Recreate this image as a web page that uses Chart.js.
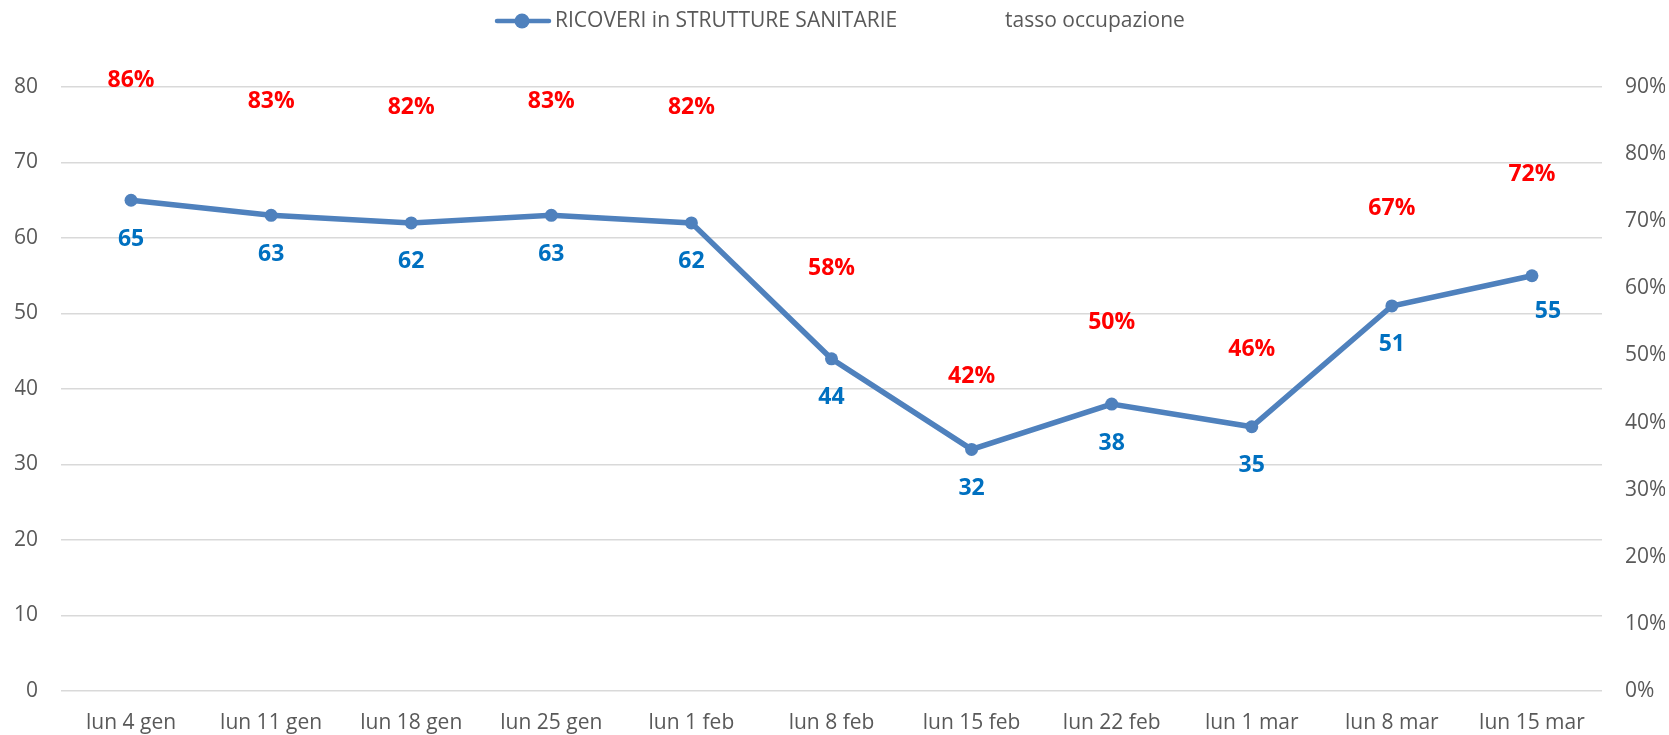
<!DOCTYPE html>
<html>
<head>
<meta charset="utf-8">
<script src="https://cdn.jsdelivr.net/npm/chart.js@4/dist/chart.umd.min.js"></script>
<style>
html,body{margin:0;padding:0;background:#fff;}
#wrap{width:1669px;height:735px;position:relative;}
</style>
</head>
<body>
<div id="wrap"><canvas id="c" width="1669" height="735"></canvas></div>
<script>
const categories = ['lun 4 gen','lun 11 gen','lun 18 gen','lun 25 gen','lun 1 feb','lun 8 feb','lun 15 feb','lun 22 feb','lun 1 mar','lun 8 mar','lun 15 mar'];
const ricoveri = [65, 63, 62, 63, 62, 44, 32, 38, 35, 51, 55];
const tasso = [0.86, 0.83, 0.82, 0.83, 0.82, 0.58, 0.42, 0.50, 0.46, 0.67, 0.72];
const seriesNames = ['RICOVERI in STRUTTURE SANITARIE', 'tasso occupazione'];
const leftMax = 80, leftStep = 10;
const rightMax = 0.9, rightStep = 0.1;

const BLUE = '#4F81BD';
const GREY_TEXT = '#595959';
const FONT = '"Open Sans", "DejaVu Sans", sans-serif';

const labelPlugin = {
  id: 'valueLabels',
  afterDatasetsDraw(chart) {
    const ctx = chart.ctx;
    ctx.save();
    ctx.font = 'bold 23px ' + FONT;
    ctx.textAlign = 'center';
    ctx.textBaseline = 'middle';
    const m0 = chart.getDatasetMeta(0);
    m0.data.forEach((pt, i) => {
      let dx = 0, dy = 39;
      if (i === m0.data.length - 1) { dx = 16; dy = 36; }
      ctx.fillStyle = '#0070C0';
      ctx.fillText(String(ricoveri[i]), pt.x + dx, pt.y + dy);
    });
    const m1 = chart.getDatasetMeta(1);
    m1.data.forEach((pt, i) => {
      ctx.fillStyle = '#FF0000';
      ctx.fillText(Math.round(tasso[i] * 100) + '%', pt.x, pt.y - 33);
    });
    ctx.restore();
  }
};

const legendPlugin = {
  id: 'customLegend',
  afterDraw(chart) {
    const ctx = chart.ctx;
    ctx.save();
    const y = 21;
    const x0 = 495;
    ctx.strokeStyle = BLUE;
    ctx.lineWidth = 4.5;
    ctx.lineCap = 'round';
    ctx.beginPath(); ctx.moveTo(x0 + 2, y); ctx.lineTo(x0 + 54, y); ctx.stroke();
    ctx.fillStyle = BLUE;
    ctx.beginPath(); ctx.arc(x0 + 27, y, 7.5, 0, Math.PI * 2); ctx.fill();
    ctx.font = '21px ' + FONT;
    ctx.fillStyle = GREY_TEXT;
    ctx.textAlign = 'left';
    ctx.textBaseline = 'middle';
    ctx.fillText(seriesNames[0], 555, y);
    ctx.fillText(seriesNames[1], 1005, y);
    ctx.restore();
  }
};

new Chart(document.getElementById('c'), {
  type: 'line',
  data: {
    labels: categories,
    datasets: [
      {
        label: seriesNames[0],
        data: ricoveri,
        yAxisID: 'y',
        borderColor: BLUE,
        backgroundColor: BLUE,
        borderWidth: 5.5,
        pointRadius: 6.5,
        pointBackgroundColor: BLUE,
        pointBorderWidth: 0,
        tension: 0
      },
      {
        label: seriesNames[1],
        data: tasso,
        yAxisID: 'y1',
        showLine: false,
        borderColor: 'rgba(0,0,0,0)',
        backgroundColor: 'rgba(0,0,0,0)',
        pointRadius: 0
      }
    ]
  },
  options: {
    responsive: false,
    animation: false,
    devicePixelRatio: 1,
    layout: { padding: { top: 87, left: 15, right: 4, bottom: 0 } },
    plugins: {
      legend: { display: false },
      tooltip: { enabled: false }
    },
    scales: {
      x: {
        offset: true,
        grid: { display: false, drawTicks: false },
        border: { display: false },
        ticks: { color: GREY_TEXT, font: { size: 21, family: FONT }, padding: 19, maxRotation: 0, autoSkip: false },
        afterFit: s => { s.height = 44; s.paddingLeft = 0; s.paddingRight = 0; }
      },
      y: {
        position: 'left',
        min: 0, max: leftMax,
        grid: { color: '#D9D9D9', lineWidth: 1.5, drawTicks: false },
        border: { display: false },
        ticks: { stepSize: leftStep, color: GREY_TEXT, font: { size: 21, family: FONT }, padding: 23 },
        afterFit: s => { s.width = 46; s.paddingTop = 0; s.paddingBottom = 0; }
      },
      y1: {
        position: 'right',
        min: 0, max: rightMax,
        grid: { drawOnChartArea: false, drawTicks: false },
        border: { display: false },
        ticks: {
          stepSize: rightStep, color: GREY_TEXT, font: { size: 21, family: FONT }, padding: 23,
          callback: v => Math.round(v * 100) + '%'
        },
        afterFit: s => { s.width = 63; s.paddingTop = 0; s.paddingBottom = 0; }
      }
    }
  },
  plugins: [labelPlugin, legendPlugin]
});
</script>
</body>
</html>
